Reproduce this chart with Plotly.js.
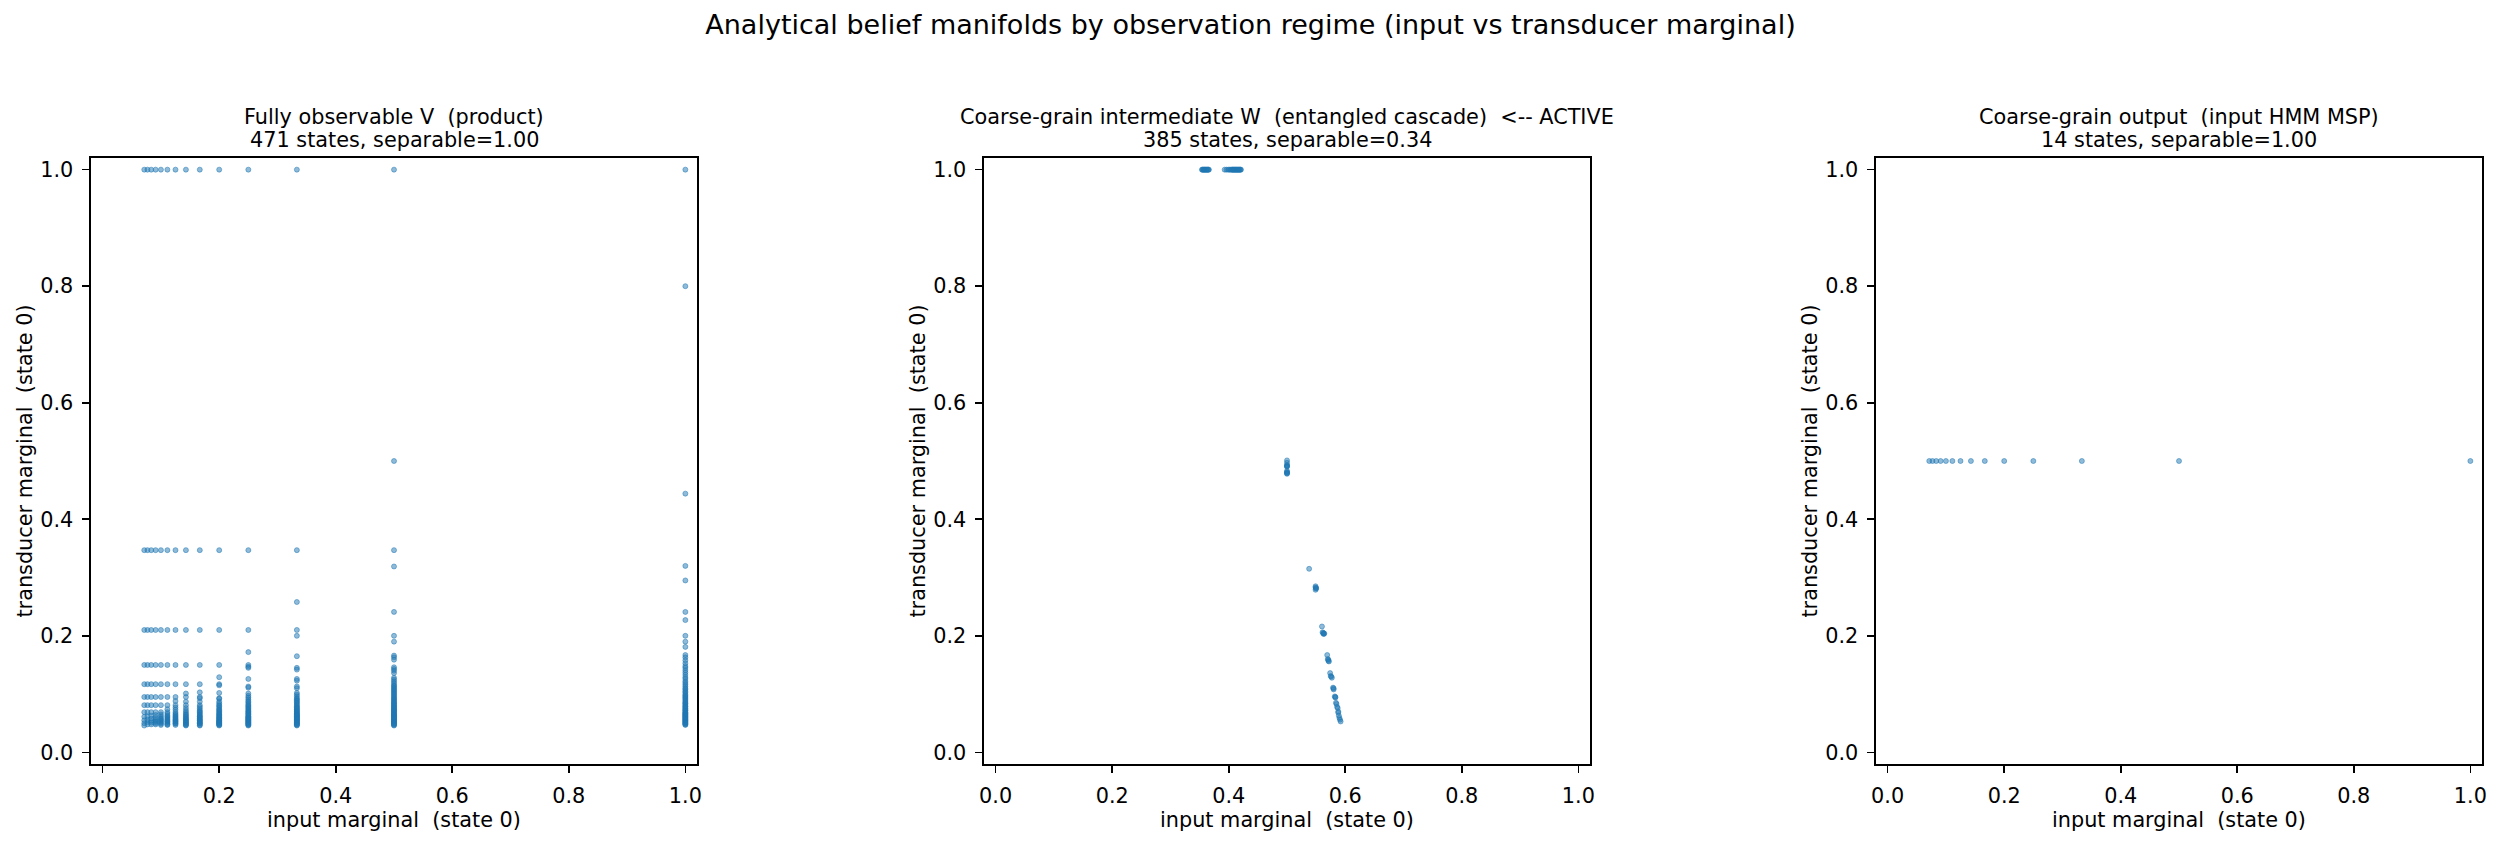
<!DOCTYPE html>
<html>
<head>
<meta charset="utf-8">
<script src="https://cdn.plot.ly/plotly-3.0.1.min.js"></script>
<style>
  html, body { margin: 0; padding: 0; background: #fff; }
  #chart { width: 2501px; height: 843px; }
</style>
</head>
<body>
<div id="chart"></div>
<script>
// Input-marginal levels (state 0) reached by the input HMM: 1/14 ... 1/1
const inputLevels = [0.0714, 0.0769, 0.0833, 0.0909, 0.1, 0.1111, 0.125, 0.1429, 0.1667, 0.2, 0.25, 0.3333, 0.5, 1.0];

// Fully observable V: transducer marginal values found at each input level
const yAt14 = [1.0, 0.347, 0.21, 0.15, 0.117, 0.095, 0.081, 0.069, 0.061, 0.055, 0.050, 0.046];
const yAt13 = [1.0, 0.347, 0.21, 0.15, 0.117, 0.095, 0.081, 0.069, 0.062, 0.056, 0.052, 0.048];
const yAt12 = [1.0, 0.347, 0.21, 0.15, 0.117, 0.095, 0.081, 0.069, 0.063, 0.058, 0.054, 0.051, 0.048];
const yAt11 = [1.0, 0.347, 0.21, 0.15, 0.117, 0.095, 0.081, 0.069, 0.064, 0.060, 0.057, 0.054, 0.052, 0.050, 0.048];
const yAt10 = [1.0, 0.347, 0.21, 0.15, 0.117, 0.095, 0.081, 0.069, 0.065, 0.062, 0.059, 0.057, 0.055, 0.053, 0.051, 0.049, 0.047];
const yAt9 = [1.0, 0.347, 0.21, 0.15, 0.117, 0.095, 0.081, 0.074, 0.069, 0.066, 0.063, 0.061, 0.059, 0.057, 0.055, 0.053, 0.052, 0.050, 0.048, 0.047];
const yAt8 = [1.0, 0.347, 0.21, 0.15, 0.117, 0.095, 0.088, 0.081, 0.077, 0.073, 0.069, 0.066, 0.064, 0.062, 0.060, 0.058, 0.056, 0.055, 0.053, 0.052, 0.050, 0.049, 0.047];
const yAt7 = [1.0, 0.347, 0.21, 0.15, 0.117, 0.101, 0.095, 0.087, 0.081, 0.076, 0.072, 0.069, 0.066, 0.064, 0.062, 0.060, 0.058, 0.057, 0.055, 0.054, 0.052, 0.051, 0.050, 0.048, 0.047, 0.046];
const yAt6 = [1.0, 0.347, 0.21, 0.15, 0.117, 0.103, 0.095, 0.093, 0.087, 0.081, 0.078, 0.075, 0.072, 0.070, 0.068, 0.066, 0.064, 0.062, 0.061, 0.059, 0.058, 0.056, 0.055, 0.054, 0.052, 0.051, 0.050, 0.049, 0.047, 0.046];
const yAt5 = [1.0, 0.347, 0.21, 0.15, 0.129, 0.117, 0.115, 0.102, 0.093, 0.092, 0.087, 0.084, 0.081, 0.079, 0.076, 0.074, 0.072, 0.070, 0.068, 0.066, 0.065, 0.063, 0.062, 0.060, 0.059, 0.058, 0.056, 0.055, 0.054, 0.053, 0.052, 0.051, 0.050, 0.049, 0.048, 0.047, 0.046];
const yAt4 = [1.0, 0.347, 0.21, 0.172, 0.15, 0.147, 0.145, 0.126, 0.113, 0.111, 0.101, 0.097, 0.094, 0.091, 0.088, 0.086, 0.083, 0.081, 0.079, 0.077, 0.075, 0.073, 0.071, 0.070, 0.068, 0.067, 0.065, 0.064, 0.062, 0.061, 0.060, 0.059, 0.058, 0.057, 0.056, 0.055, 0.054, 0.053, 0.052, 0.051, 0.050, 0.049, 0.048, 0.047, 0.046];
const yAt3 = [1.0, 0.347, 0.258, 0.21, 0.2, 0.165, 0.145, 0.142, 0.126, 0.123, 0.113, 0.110, 0.102, 0.099, 0.096, 0.093, 0.091, 0.089, 0.087, 0.085, 0.083, 0.081, 0.079, 0.077, 0.076, 0.074, 0.073, 0.071, 0.070, 0.069, 0.067, 0.066, 0.065, 0.064, 0.063, 0.062, 0.061, 0.060, 0.059, 0.058, 0.057, 0.056, 0.055, 0.054, 0.053, 0.052, 0.051, 0.050, 0.049, 0.048, 0.047, 0.046];
const yAt2 = [1.0, 0.5, 0.347, 0.319, 0.241, 0.2, 0.19, 0.166, 0.163, 0.159, 0.146, 0.143, 0.140, 0.136, 0.128, 0.125, 0.122, 0.119, 0.116, 0.114, 0.112, 0.110, 0.108, 0.106, 0.104, 0.102, 0.100, 0.098, 0.096, 0.094, 0.092, 0.091, 0.089, 0.087, 0.086, 0.084, 0.083, 0.081, 0.080, 0.078, 0.077, 0.076, 0.074, 0.073, 0.072, 0.071, 0.070, 0.068, 0.067, 0.066, 0.065, 0.064, 0.063, 0.062, 0.061, 0.060, 0.059, 0.058, 0.057, 0.056, 0.055, 0.054, 0.053, 0.052, 0.051, 0.050, 0.049, 0.048, 0.047, 0.046];
const yAt1 = [1.0, 0.8, 0.444, 0.32, 0.295, 0.241, 0.227, 0.2, 0.19, 0.181, 0.167, 0.163, 0.158, 0.153, 0.148, 0.145, 0.141, 0.137, 0.133, 0.129, 0.126, 0.122, 0.119, 0.116, 0.113, 0.110, 0.108, 0.105, 0.103, 0.100, 0.098, 0.096, 0.094, 0.092, 0.090, 0.088, 0.086, 0.084, 0.083, 0.081, 0.079, 0.078, 0.076, 0.075, 0.073, 0.072, 0.071, 0.069, 0.068, 0.067, 0.066, 0.065, 0.064, 0.063, 0.062, 0.061, 0.060, 0.059, 0.058, 0.057, 0.056, 0.055, 0.054, 0.053, 0.052, 0.051, 0.050, 0.049, 0.048, 0.047];

// Coarse-grain intermediate W: (input marginal, transducer marginal) pairs
const wInput = [
  0.354, 0.355, 0.356, 0.357, 0.358, 0.359, 0.360, 0.361, 0.362, 0.363, 0.364, 0.365, 0.366,
  0.393, 0.396, 0.399, 0.401, 0.403, 0.405, 0.406, 0.407, 0.408, 0.409, 0.410, 0.411, 0.412, 0.413, 0.414, 0.415, 0.416, 0.417, 0.418, 0.419, 0.420, 0.421,
  0.5, 0.5, 0.5, 0.5, 0.5, 0.5, 0.5, 0.5, 0.5, 0.5, 0.5,
  0.538,
  0.549, 0.549, 0.550, 0.550, 0.549,
  0.560,
  0.561, 0.562, 0.563, 0.563, 0.564,
  0.569,
  0.570, 0.571, 0.571, 0.572,
  0.574,
  0.575, 0.576, 0.577,
  0.579, 0.580, 0.580,
  0.582, 0.583, 0.583,
  0.584, 0.585,
  0.586, 0.587,
  0.588, 0.588,
  0.589, 0.590, 0.591, 0.592
];
const wTransducer = [
  1.0, 1.0, 1.0, 1.0, 1.0, 1.0, 1.0, 1.0, 1.0, 1.0, 1.0, 1.0, 1.0,
  1.0, 1.0, 1.0, 1.0, 1.0, 1.0, 1.0, 1.0, 1.0, 1.0, 1.0, 1.0, 1.0, 1.0, 1.0, 1.0, 1.0, 1.0, 1.0, 1.0, 1.0, 1.0,
  0.501, 0.497, 0.493, 0.492, 0.491, 0.490, 0.483, 0.481, 0.480, 0.479, 0.478,
  0.315,
  0.285, 0.283, 0.282, 0.281, 0.279,
  0.216,
  0.206, 0.205, 0.204, 0.203, 0.204,
  0.167,
  0.160, 0.159, 0.157, 0.156,
  0.136,
  0.131, 0.130, 0.128,
  0.111, 0.110, 0.108,
  0.096, 0.095, 0.094,
  0.085, 0.083,
  0.078, 0.076,
  0.070, 0.068,
  0.063, 0.059, 0.056, 0.053
];

// Coarse-grain output: input HMM mixed state presentation
const outInput = [0.0714, 0.0769, 0.0833, 0.0909, 0.1, 0.1111, 0.125, 0.1429, 0.1667, 0.2, 0.25, 0.3333, 0.5, 1.0];
const outTransducer = [0.5, 0.5, 0.5, 0.5, 0.5, 0.5, 0.5, 0.5, 0.5, 0.5, 0.5, 0.5, 0.5, 0.5];

const panelTitles = [
  ['Fully observable V  (product)', '471 states, separable=1.00'],
  ['Coarse-grain intermediate W  (entangled cascade)  <-- ACTIVE', '385 states, separable=0.34'],
  ['Coarse-grain output  (input HMM MSP)', '14 states, separable=1.00']
];
const suptitle = 'Analytical belief manifolds by observation regime (input vs transducer marginal)';
const xLabel = 'input marginal  (state 0)';
const yLabel = 'transducer marginal  (state 0)';
const tickValues = [0, 0.2, 0.4, 0.6, 0.8, 1.0];

// flatten the per-level columns of the product regime
const fullColumns = [yAt14, yAt13, yAt12, yAt11, yAt10, yAt9, yAt8, yAt7, yAt6, yAt5, yAt4, yAt3, yAt2, yAt1];
const fullX = [], fullY = [];
inputLevels.forEach((x, i) => fullColumns[i].forEach(y => { fullX.push(x); fullY.push(y); }));

const W = 2501, H = 843;
const FONT = 'DejaVu Sans';
const FS = 20.8;
const dotColor = 'rgba(31,119,180,0.5)';

const marker = { size: 5, color: dotColor, line: { color: dotColor, width: 1 } };
const series = [[fullX, fullY], [wInput, wTransducer], [outInput, outTransducer]];
const traces = series.map((s, i) => ({
  type: 'scatter', mode: 'markers',
  x: s[0], y: s[1],
  xaxis: i === 0 ? 'x' : 'x' + (i + 1),
  yaxis: i === 0 ? 'y' : 'y' + (i + 1),
  marker: marker,
  hoverinfo: 'skip', showlegend: false
}));

// pixel geometry of the three square panels
const panelLeft = [91, 984, 1876];
const panelSize = 606;
const panelTop = 158;
const panelBottom = panelTop + panelSize;

function axisBase(domain, titleText, standoff) {
  return {
    domain: domain,
    range: [-0.02, 1.02],
    tickvals: tickValues,
    tickformat: '.1f',
    showgrid: false, zeroline: false,
    showline: true, mirror: true,
    linecolor: '#000', linewidth: 1.6,
    ticks: 'outside', ticklen: 7, tickwidth: 1.6, tickcolor: '#000',
    ticklabelstandoff: 5,
    tickfont: { family: FONT, size: FS, color: '#000' },
    title: { text: titleText, font: { family: FONT, size: FS, color: '#000' }, standoff: standoff },
    fixedrange: true
  };
}

const layout = {
  width: W, height: H,
  margin: { l: 0, r: 0, t: 0, b: 0, pad: 0 },
  paper_bgcolor: '#fff', plot_bgcolor: '#fff',
  font: { family: FONT, color: '#000' },
  title: {
    text: suptitle,
    font: { family: FONT, size: 27, color: '#000' },
    x: 0.5, xanchor: 'center',
    y: 1 - 25 / H, yanchor: 'middle', yref: 'paper'
  },
  annotations: [],
  showlegend: false
};

const yDomain = [1 - panelBottom / H, 1 - panelTop / H];
for (let i = 0; i < 3; i++) {
  const xd = [panelLeft[i] / W, (panelLeft[i] + panelSize) / W];
  const sx = i === 0 ? '' : String(i + 1);
  layout['xaxis' + sx] = Object.assign(axisBase(xd, xLabel, 1), { anchor: 'y' + sx });
  layout['yaxis' + sx] = Object.assign(axisBase(yDomain, yLabel, 2), { anchor: 'x' + sx });
  const cx = (xd[0] + xd[1]) / 2;
  layout.annotations.push(
    { text: panelTitles[i][0], xref: 'paper', yref: 'paper', x: cx, y: 1 - 117 / H,
      xanchor: 'center', yanchor: 'middle', showarrow: false,
      font: { family: FONT, size: FS, color: '#000' } },
    { text: panelTitles[i][1], xref: 'paper', yref: 'paper', x: cx, y: 1 - 140 / H,
      xanchor: 'center', yanchor: 'middle', showarrow: false,
      font: { family: FONT, size: FS, color: '#000' } }
  );
}

Plotly.newPlot('chart', traces, layout, { staticPlot: true, displayModeBar: false });
</script>
</body>
</html>
